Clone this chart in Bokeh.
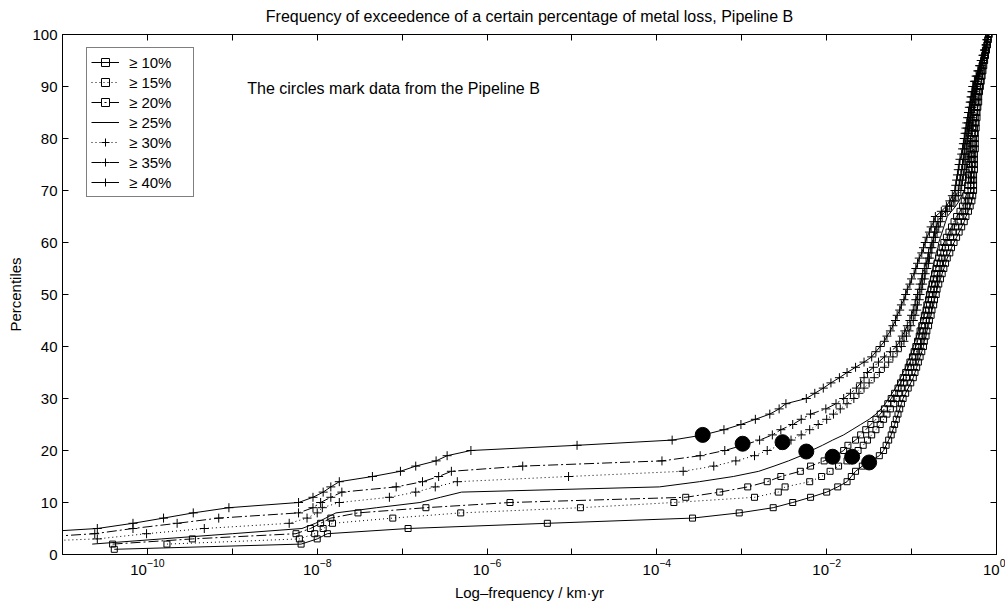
import math
from bokeh.plotting import figure
from bokeh.models import (FixedTicker, LogAxis, LinearAxis, Legend, LegendItem,
                          Label, Range1d, CustomJSTickFormatter)
from bokeh.embed import file_html
from bokeh.resources import INLINE

FONT = "Liberation Sans"

# percentiles 1..100 (y) ; log10 of frequency (x) for each threshold curve
percentiles = list(range(1, 101))

logf_10 = [-10.39, -8.19, -8.00, -7.88, -6.93, -5.29, -3.58, -3.03, -2.63, -2.40,
           -2.19, -2.00, -1.87, -1.76, -1.71, -1.66, -1.58, -1.48, -1.38, -1.33,
           -1.30, -1.27, -1.24, -1.22, -1.20, -1.18, -1.16, -1.14, -1.12, -1.10,
           -1.07, -1.04, -1.01, -0.98, -0.96, -0.94, -0.92, -0.90, -0.88, -0.86,
           -0.85, -0.83, -0.82, -0.80, -0.79, -0.77, -0.76, -0.74, -0.73, -0.71,
           -0.70, -0.68, -0.66, -0.64, -0.62, -0.60, -0.58, -0.55, -0.53, -0.50,
           -0.47, -0.44, -0.41, -0.38, -0.36, -0.33, -0.31, -0.29, -0.28, -0.27,
           -0.27, -0.27, -0.27, -0.26, -0.26, -0.26, -0.26, -0.25, -0.25, -0.25,
           -0.25, -0.24, -0.24, -0.23, -0.23, -0.22, -0.21, -0.21, -0.20, -0.19,
           -0.18, -0.17, -0.16, -0.15, -0.14, -0.13, -0.12, -0.11, -0.10, -0.09]

logf_15 = [None, -9.77, -8.21, -8.03, -7.93, -7.82, -7.11, -6.31, -4.90, -3.80,
           -2.85, -2.57, -2.49, -2.20, -2.06, -1.96, -1.86, -1.76, -1.70, -1.63,
           -1.57, -1.52, -1.47, -1.42, -1.37, -1.33, -1.29, -1.25, -1.21, -1.18,
           -1.15, -1.12, -1.09, -1.06, -1.03, -1.01, -0.98, -0.96, -0.94, -0.92,
           -0.90, -0.88, -0.87, -0.85, -0.83, -0.82, -0.80, -0.79, -0.77, -0.76,
           -0.74, -0.73, -0.71, -0.70, -0.68, -0.66, -0.64, -0.62, -0.60, -0.57,
           -0.54, -0.51, -0.48, -0.45, -0.42, -0.38, -0.35, -0.33, -0.31, -0.30,
           -0.30, -0.29, -0.29, -0.29, -0.28, -0.28, -0.28, -0.27, -0.27, -0.27,
           -0.26, -0.26, -0.25, -0.25, -0.24, -0.23, -0.23, -0.22, -0.21, -0.20,
           -0.19, -0.18, -0.17, -0.16, -0.15, -0.13, -0.12, -0.11, -0.10, -0.09]

logf_20 = [None, -10.41, -9.47, -8.25, -8.08, -7.96, -7.84, -7.52, -6.72, -5.73,
           -3.66, -3.26, -2.93, -2.70, -2.54, -2.31, -2.19, -2.03, -1.90, -1.80,
           -1.75, -1.66, -1.60, -1.54, -1.48, -1.42, -1.37, -1.32, -1.28, -1.24,
           -1.20, -1.16, -1.13, -1.10, -1.07, -1.04, -1.02, -0.99, -0.97, -0.95,
           -0.93, -0.91, -0.90, -0.88, -0.86, -0.85, -0.83, -0.82, -0.80, -0.79,
           -0.77, -0.76, -0.74, -0.73, -0.71, -0.70, -0.68, -0.66, -0.64, -0.62,
           -0.59, -0.56, -0.53, -0.50, -0.47, -0.43, -0.40, -0.38, -0.36, -0.34,
           -0.34, -0.33, -0.33, -0.32, -0.32, -0.31, -0.31, -0.30, -0.30, -0.30,
           -0.29, -0.28, -0.28, -0.27, -0.26, -0.26, -0.25, -0.24, -0.23, -0.22,
           -0.21, -0.20, -0.18, -0.17, -0.15, -0.14, -0.13, -0.11, -0.10, -0.09]

logf_25 = [None, -10.65, -9.83, -9.00, -8.18, -8.02, -7.90, -7.78, -7.30, -6.79,
           -6.55, -6.30, -3.97, -3.50, -3.10, -2.80, -2.62, -2.45, -2.30, -2.18,
           -2.05, -1.93, -1.80, -1.70, -1.60, -1.50, -1.42, -1.36, -1.31, -1.27,
           -1.23, -1.19, -1.16, -1.13, -1.10, -1.07, -1.05, -1.02, -1.00, -0.98,
           -0.96, -0.94, -0.92, -0.91, -0.89, -0.88, -0.86, -0.85, -0.83, -0.82,
           -0.81, -0.79, -0.78, -0.76, -0.75, -0.74, -0.72, -0.71, -0.69, -0.68,
           -0.66, -0.64, -0.62, -0.60, -0.58, -0.53, -0.48, -0.44, -0.41, -0.38,
           -0.37, -0.36, -0.35, -0.35, -0.34, -0.33, -0.33, -0.32, -0.32, -0.31,
           -0.30, -0.30, -0.29, -0.28, -0.28, -0.27, -0.26, -0.25, -0.25, -0.24,
           -0.22, -0.21, -0.19, -0.17, -0.16, -0.14, -0.13, -0.12, -0.10, -0.09]

logf_30 = [-13.0, -12.2, -10.59, -10.01, -9.33, -8.33, -8.12, -8.00, -7.94, -7.74,
           -7.15, -6.84, -6.61, -6.35, -5.04, -3.69, -3.33, -3.07, -2.85, -2.70,
           -2.55, -2.42, -2.30, -2.20, -2.10, -2.00, -1.92, -1.84, -1.76, -1.68,
           -1.62, -1.56, -1.50, -1.44, -1.38, -1.32, -1.27, -1.22, -1.17, -1.12,
           -1.09, -1.06, -1.03, -1.01, -0.98, -0.96, -0.94, -0.93, -0.91, -0.90,
           -0.88, -0.87, -0.85, -0.84, -0.82, -0.80, -0.79, -0.77, -0.76, -0.74,
           -0.72, -0.70, -0.68, -0.66, -0.64, -0.58, -0.53, -0.49, -0.45, -0.42,
           -0.41, -0.40, -0.39, -0.38, -0.37, -0.37, -0.36, -0.35, -0.35, -0.34,
           -0.33, -0.32, -0.31, -0.30, -0.30, -0.29, -0.28, -0.27, -0.26, -0.25,
           -0.24, -0.22, -0.20, -0.18, -0.16, -0.15, -0.13, -0.12, -0.11, -0.10]

logf_35 = [-12.8, -12.2, -11.6, -10.62, -10.17, -9.65, -9.16, -8.22, -8.05, -7.96,
           -7.84, -7.71, -7.07, -6.76, -6.57, -6.42, -5.58, -3.94, -3.49, -3.20,
           -2.99, -2.79, -2.64, -2.54, -2.40, -2.30, -2.19, -2.01, -1.89, -1.80,
           -1.72, -1.65, -1.60, -1.56, -1.52, -1.45, -1.39, -1.32, -1.25, -1.18,
           -1.14, -1.11, -1.08, -1.05, -1.02, -1.00, -0.98, -0.96, -0.95, -0.93,
           -0.91, -0.90, -0.88, -0.87, -0.85, -0.83, -0.81, -0.80, -0.78, -0.76,
           -0.74, -0.73, -0.71, -0.69, -0.66, -0.60, -0.55, -0.51, -0.48, -0.45,
           -0.44, -0.43, -0.42, -0.41, -0.40, -0.39, -0.38, -0.38, -0.37, -0.36,
           -0.35, -0.34, -0.33, -0.32, -0.31, -0.30, -0.30, -0.29, -0.28, -0.27,
           -0.25, -0.23, -0.21, -0.19, -0.17, -0.15, -0.14, -0.12, -0.11, -0.10]

logf_40 = [-13.0, -12.6, -12.1, -11.6, -10.59, -10.17, -9.81, -9.46, -9.04, -8.22,
           -8.05, -7.93, -7.84, -7.74, -7.35, -7.02, -6.84, -6.60, -6.47, -6.19,
           -4.94, -3.82, -3.45, -3.21, -3.01, -2.84, -2.67, -2.56, -2.48, -2.24,
           -2.14, -2.04, -1.95, -1.85, -1.76, -1.66, -1.56, -1.47, -1.42, -1.37,
           -1.32, -1.29, -1.25, -1.22, -1.19, -1.17, -1.14, -1.12, -1.09, -1.07,
           -1.05, -1.02, -1.00, -0.97, -0.95, -0.93, -0.91, -0.88, -0.86, -0.84,
           -0.82, -0.79, -0.77, -0.74, -0.72, -0.65, -0.59, -0.55, -0.52, -0.49,
           -0.48, -0.47, -0.46, -0.45, -0.44, -0.43, -0.41, -0.40, -0.39, -0.38,
           -0.37, -0.36, -0.35, -0.34, -0.33, -0.32, -0.31, -0.30, -0.29, -0.28,
           -0.26, -0.24, -0.22, -0.20, -0.18, -0.16, -0.14, -0.12, -0.11, -0.10]

# Pipeline B data points (filled circles)
circle_logf = [-3.46, -2.99, -2.52, -2.24, -1.93, -1.70, -1.50]
circle_pct = [23.0, 21.3, 21.6, 19.8, 18.8, 18.8, 17.7]

labels = ["\u2265 10%", "\u2265 15%", "\u2265 20%", "\u2265 25%",
          "\u2265 30%", "\u2265 35%", "\u2265 40%"]
series = [logf_10, logf_15, logf_20, logf_25, logf_30, logf_35, logf_40]
dashes = ["solid", "1 3", "10 3 2 3", "solid", "1 3", "10 3 2 3", "solid"]
markers = ["square", "square", "square", None, "cross", "cross", "cross"]

TITLE = "Frequency of exceedence of a certain percentage of metal loss, Pipeline B"


def to_freq(vals):
    return [10 ** v if v is not None else float("nan") for v in vals]


p = figure(width=1005, height=603, x_axis_type="log",
           x_range=Range1d(1e-11, 1), y_range=Range1d(0, 100),
           output_backend="svg", toolbar_location=None,
           min_border_left=62, min_border_right=9,
           min_border_top=34, min_border_bottom=48)

p.background_fill_color = "white"
p.border_fill_color = "white"
p.outline_line_color = "black"
p.outline_line_width = 1
p.grid.visible = False

xt_major = [1e-10, 1e-8, 1e-6, 1e-4, 1e-2, 1.0]
xt_minor = [1e-9, 1e-7, 1e-5, 1e-3, 1e-1]
yt = list(range(0, 101, 10))

for ax in p.xaxis:
    ax.ticker = FixedTicker(ticks=xt_major, minor_ticks=xt_minor)
for ax in p.yaxis:
    ax.ticker = FixedTicker(ticks=yt)

for ax in list(p.xaxis) + list(p.yaxis):
    ax.axis_line_color = "black"
    ax.major_tick_in = 6
    ax.major_tick_out = 0
    ax.minor_tick_in = 6
    ax.minor_tick_out = 0
    ax.major_tick_line_color = "black"
    ax.major_label_text_font = FONT
    ax.major_label_text_font_size = "15px"
    ax.major_label_text_color = "black"
    ax.axis_label_text_font = FONT
    ax.axis_label_text_font_size = "15px"
    ax.axis_label_text_font_style = "normal"
    ax.axis_label_text_color = "black"
p.yaxis.minor_tick_line_color = None
p.xaxis.minor_tick_line_color = "black"
p.xaxis.axis_label = "Log\u2013frequency / km\u00b7yr"
p.yaxis.axis_label = "Percentiles"
p.xaxis.major_label_standoff = 4
p.xaxis.axis_label_standoff = 6
p.yaxis.major_label_standoff = 5
p.yaxis.axis_label_standoff = 5

blank = CustomJSTickFormatter(code="return ''")
# top axis: inward ticks only, carrying the chart title as its label
top_ax = LogAxis(ticker=FixedTicker(ticks=xt_major, minor_ticks=xt_minor),
                 formatter=blank,
                 major_label_text_font_size="2px", major_label_text_alpha=0,
                 major_label_standoff=0,
                 major_tick_in=6, major_tick_out=0, minor_tick_in=6, minor_tick_out=0,
                 axis_line_color="black",
                 axis_label=TITLE, axis_label_text_font=FONT,
                 axis_label_text_font_size="16px", axis_label_text_font_style="normal",
                 axis_label_text_color="black", axis_label_standoff=10)
right_ax = LinearAxis(ticker=FixedTicker(ticks=yt), formatter=blank,
                      major_label_text_font_size="2px", major_label_text_alpha=0,
                      major_label_standoff=0,
                      major_tick_in=6, major_tick_out=0, minor_tick_line_color=None,
                      axis_line_color="black")
p.add_layout(top_ax, "above")
p.add_layout(right_ax, "right")

items = []
for lab, vals, dash, mk in zip(labels, series, dashes, markers):
    xs = to_freq(vals)
    ys = [float(v) for v in percentiles]
    rl = p.line(xs, ys, line_color="black", line_width=1, line_dash=dash)
    rends = [rl]
    if mk is not None:
        sz = 6 if mk == "square" else 9
        rs = p.scatter(xs, ys, marker=mk, size=sz, line_color="black",
                       fill_color=None, line_width=1)
        rends.append(rs)
    items.append(LegendItem(label=lab, renderers=rends))

p.scatter(to_freq(circle_logf), circle_pct, marker="circle", size=15,
          fill_color="black", line_color="black")

legend = Legend(items=items, location=(24, 357), padding=4, spacing=0,
                label_height=20, glyph_height=20, glyph_width=28,
                label_standoff=10, label_width=60, margin=0,
                border_line_color="black", border_line_width=1,
                background_fill_color="white", background_fill_alpha=1,
                label_text_font=FONT, label_text_font_size="15px",
                label_text_color="black")
p.add_layout(legend)

note = Label(x=10 ** -8.824, y=89.6,
             text="The circles mark data from the Pipeline B",
             text_font=FONT, text_font_size="16px", text_baseline="middle",
             text_color="black")
p.add_layout(note)

open("out.html", "w").write(file_html(p, INLINE))
